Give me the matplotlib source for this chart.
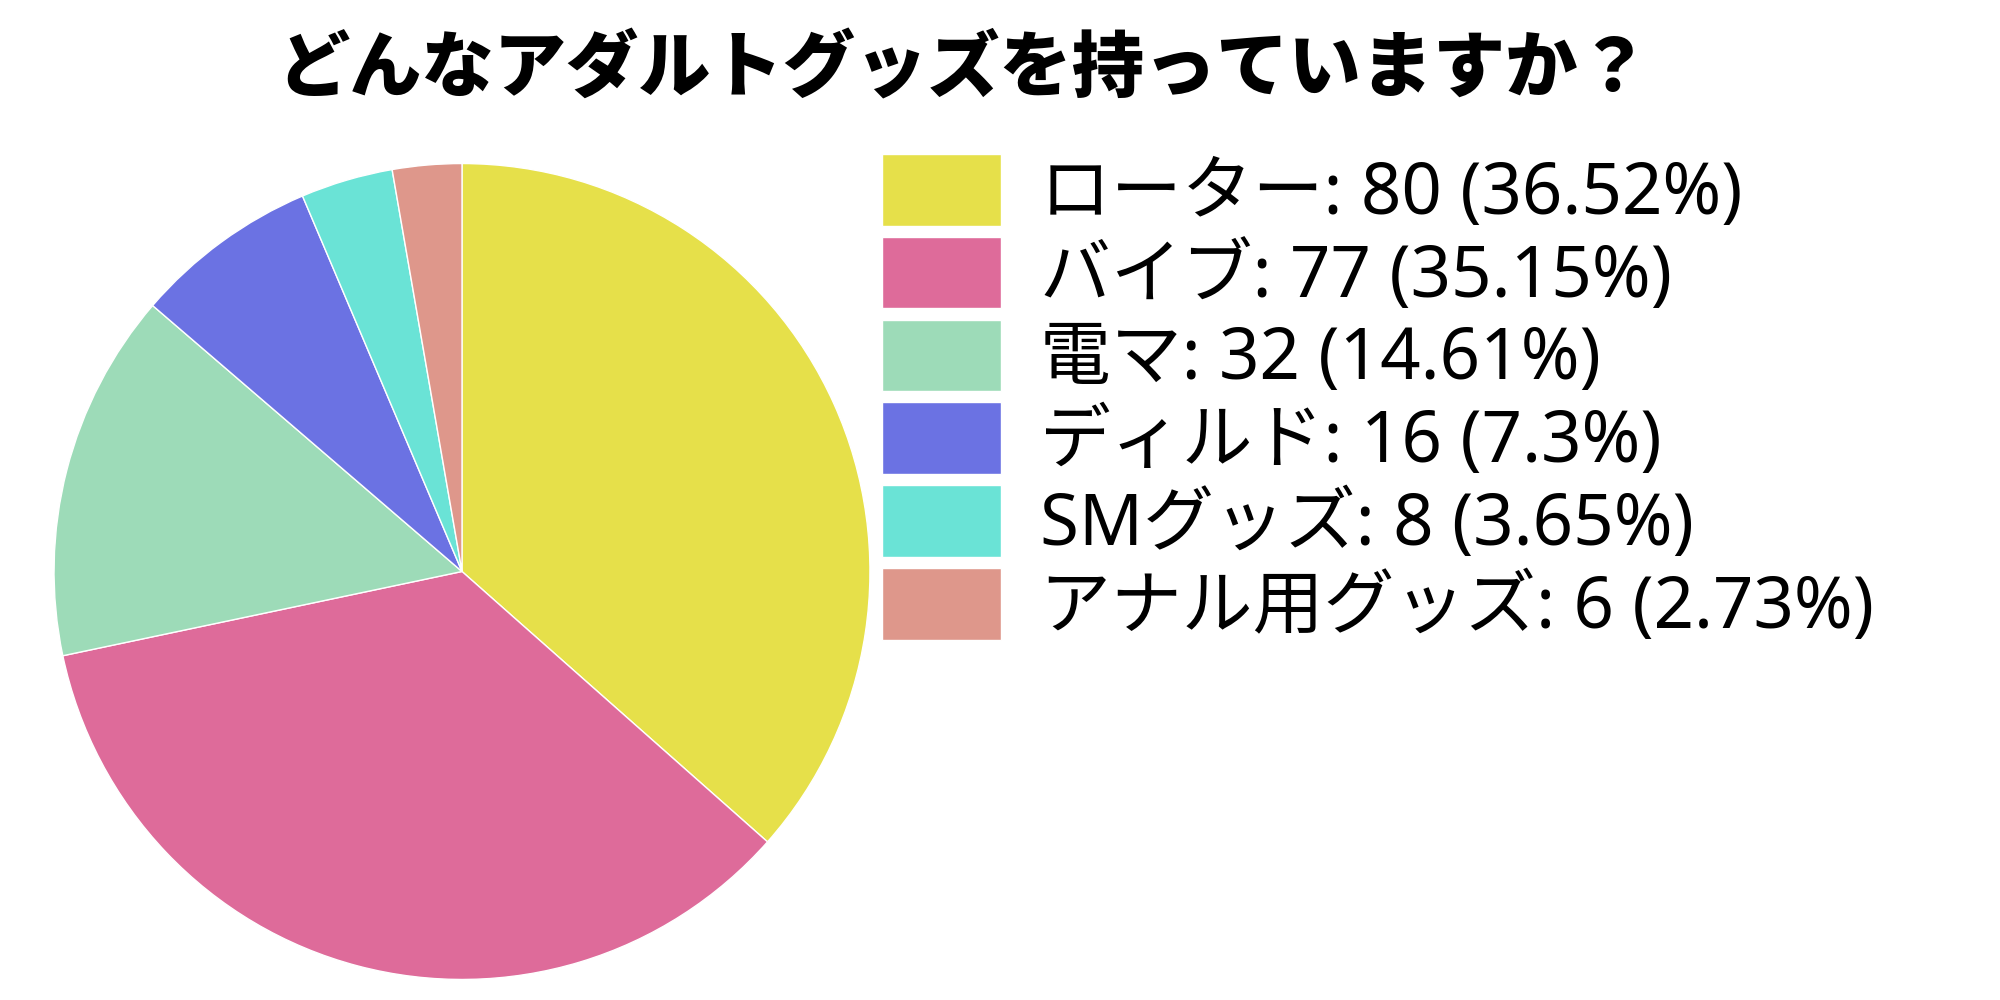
import matplotlib
matplotlib.use("Agg")
import matplotlib.pyplot as plt

plt.rcParams['font.family'] = ['Noto Sans', 'Noto Sans CJK JP', 'DejaVu Sans']

title = "どんなアダルトグッズを持っていますか？"
labels = ["ローター", "バイブ", "電マ", "ディルド", "SMグッズ", "アナル用グッズ"]
counts = [80, 77, 32, 16, 8, 6]
percents = ["36.52", "35.15", "14.61", "7.3", "3.65", "2.73"]
colors = ["#e6e04a", "#de6b9a", "#9ddbb8", "#6b72e3", "#6ae3d6", "#de978b"]

fig = plt.figure(figsize=(20, 10), dpi=100)
ax = fig.add_axes([0.026, 0.0185, 0.41, 0.82])

wedges, _ = ax.pie(counts, colors=colors, startangle=90, counterclock=False,
                   radius=1, wedgeprops=dict(edgecolor='white', linewidth=1))
ax.set_xlim(-1.005, 1.005)
ax.set_ylim(-1.005, 1.005)
ax.set_aspect('equal')

legend_labels = [f"{l}: {c} ({p}%)" for l, c, p in zip(labels, counts, percents)]
fig.legend(wedges, legend_labels, loc='upper left', bbox_to_anchor=(0.441, 0.846),
           frameon=False, fontsize=51, handlelength=1.68, handleheight=1.18,
           handletextpad=0.55, labelspacing=0.085, borderpad=0, borderaxespad=0)

fig.text(0.482, 0.93, title, ha='center', va='center', fontsize=52, fontweight='heavy',
         family=['Noto Sans CJK JP', 'DejaVu Sans'])

fig.savefig("out.png")
